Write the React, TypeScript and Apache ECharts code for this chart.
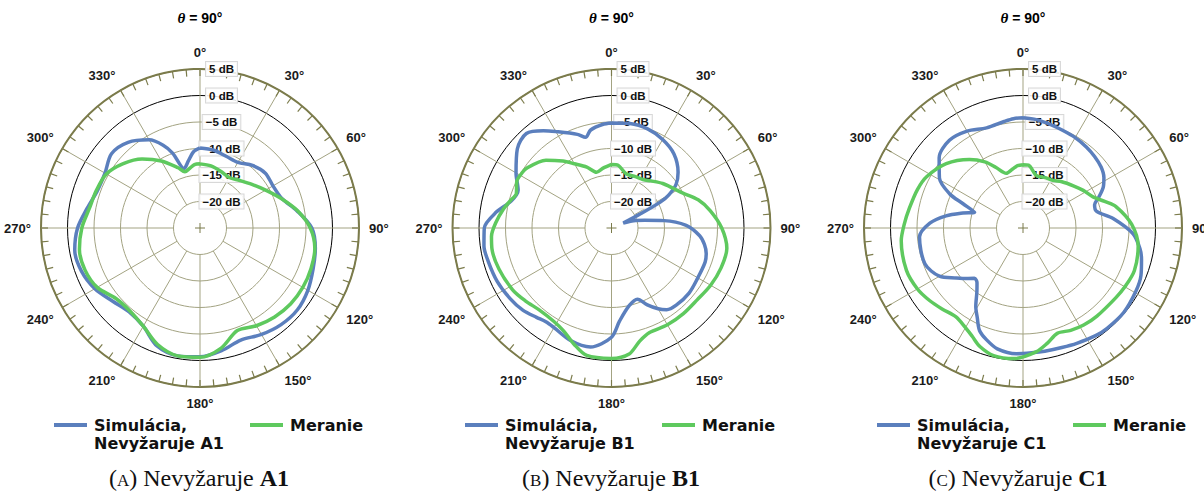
import React, { useEffect, useRef } from 'react';
import * as echarts from 'echarts';

// Colours
const BLUE = '#5b7fbd';
const GREEN = '#5ec95e';
const OLIVE = '#7b7b4b';
const GRID = '#a3a382';

// Radial scale (dB) and angular grid
const RADIUS_MIN = -25;
const RADIUS_MAX = 5;
const ringValues = [5, 0, -5, -10, -15, -20];
const ringLabels = ['5 dB', '0 dB', '\u22125 dB', '\u221210 dB', '\u221215 dB', '\u221220 dB'];
const spokeAngles = [0, 30, 60, 90, 120, 150, 180, 210, 240, 270, 300, 330];
// small ticks on the outer ring, every 5°
const ringTickAngles = Array.from({ length: 72 }, (_, k) => k * 5);

// Panel A
const simAAngles = [0, 10, 20, 30, 40, 50, 60, 70, 80, 90, 100, 110, 120, 130, 140, 150, 160, 170, 180, 190, 200, 210, 220, 230, 240, 250, 260, 270, 280, 290, 300, 310, 320, 330, 336, 340, 345, 350, 355];
const simAValues = [-9.9, -10.1, -10.6, -10.7, -9.6, -8.9, -9.1, -8.6, -6.4, -3.9, -2.9, -2.3, -1.5, -1.0, -1.2, -1.8, -2.5, -1.5, -0.7, -0.5, -1.3, -3.6, -4.3, -3.5, -2.1, -1.2, -1.0, -1.9, -3.4, -4.4, -4.3, -3.2, -3.9, -5.8, -7.9, -10.0, -13.4, -12.2, -10.6];
const measAAngles = [0, 10, 20, 30, 40, 50, 60, 70, 80, 90, 100, 110, 120, 130, 140, 150, 160, 170, 180, 190, 200, 210, 220, 230, 240, 250, 260, 270, 280, 290, 300, 310, 320, 330, 340, 345, 350, 355];
const measAValues = [-12.9, -13.1, -13.6, -14.0, -13.3, -12.2, -10.7, -8.7, -6.3, -4.2, -3.0, -2.7, -2.6, -2.7, -3.1, -3.7, -4.4, -2.0, -0.6, -0.5, -1.6, -3.6, -4.5, -4.3, -2.6, -1.9, -1.9, -2.7, -3.8, -4.2, -4.6, -6.1, -8.0, -10.4, -12.9, -14.0, -13.6, -13.0];

// Panel B
const simBAngles = [0, 10, 20, 30, 40, 50, 56, 60, 62, 64, 67, 72, 77, 82, 88, 95, 100, 105, 110, 120, 130, 140, 146, 150, 155, 160, 167, 175, 180, 190, 200, 210, 215, 220, 227, 235, 245, 255, 262, 270, 278, 285, 292, 300, 310, 318, 325, 330, 340, 344, 348, 355];
const simBValues = [-5.2, -5.0, -5.1, -5.7, -6.7, -8.6, -10.3, -12.5, -14.5, -19.0, -22.6, -20.6, -18.6, -15.0, -10.9, -8.3, -7.2, -6.5, -6.2, -6.2, -5.9, -6.0, -6.4, -7.4, -9.0, -10.7, -10.0, -7.4, -4.4, -2.2, -2.4, -3.3, -3.4, -3.0, -2.2, -1.7, -1.2, -0.9, -0.7, -1.0, -3.1, -5.4, -6.0, -4.2, -1.8, -1.0, -2.6, -4.0, -6.2, -7.2, -6.1, -5.4];
const measBAngles = [0, 6, 15, 25, 33, 40, 49, 57, 64, 72, 80, 90, 100, 110, 120, 130, 140, 150, 160, 166, 172, 180, 191, 198, 205, 212, 221, 230, 238, 250, 260, 266, 273, 280, 285, 290, 296, 300, 305, 316, 324, 330, 338, 345, 352];
const measBValues = [-13.0, -13.1, -14.4, -14.3, -14.1, -13.4, -12.2, -11.2, -10.0, -7.8, -6.1, -4.2, -2.9, -3.0, -3.4, -3.9, -3.9, -3.9, -4.0, -3.0, -1.0, -0.4, -0.5, -2.0, -3.6, -4.3, -4.4, -3.7, -3.0, -2.4, -2.1, -2.3, -3.2, -4.3, -5.2, -5.9, -5.1, -5.1, -5.4, -7.2, -9.4, -11.0, -12.6, -14.1, -13.6];

// Panel C
const simCAngles = [0, 7, 15, 22, 30, 38, 45, 52, 58, 63, 68, 72, 77, 84, 93, 100, 105, 112, 119, 130, 140, 146, 155, 162, 170, 176, 183, 192, 198, 203, 207, 211, 216, 220, 224, 230, 233, 240, 250, 265, 273, 279, 284, 288, 292, 295, 301, 310, 320, 330, 340, 350, 355];
const simCValues = [-4.2, -4.4, -4.8, -5.1, -5.3, -5.6, -5.9, -6.3, -7.0, -8.0, -9.6, -10.8, -10.8, -7.9, -4.2, -2.6, -1.85, -1.0, -0.6, -0.2, -0.3, -0.5, -1.0, -1.3, -1.4, -1.4, -1.25, -1.7, -2.8, -4.0, -6.0, -7.7, -10.2, -11.5, -11.8, -10.2, -9.3, -6.8, -5.3, -5.4, -7.4, -10.3, -13.3, -15.4, -12.8, -9.7, -6.6, -4.35, -3.4, -3.9, -4.9, -4.6, -4.3];
const measCAngles = [0, 5, 14, 24, 32, 40, 50, 58, 66, 72, 77, 88, 99, 111, 120, 127, 140, 148, 155, 162, 168, 174, 184, 193, 200, 205, 210, 217, 225, 232, 240, 250, 264, 272, 280, 290, 298, 310, 322, 330, 336, 343, 350, 355];
const measCValues = [-13.05, -13.1, -14.75, -14.6, -14.4, -13.6, -12.6, -11.6, -10.55, -8.8, -7.0, -4.5, -3.0, -2.5, -2.8, -3.1, -3.3, -3.4, -3.7, -4.1, -2.8, -1.5, -0.3, -0.3, -1.2, -2.4, -3.3, -4.0, -3.4, -2.7, -2.0, -1.6, -1.9, -2.6, -3.25, -3.8, -4.4, -6.1, -8.6, -10.6, -12.5, -14.2, -13.7, -13.2];

const MEAS_NAME = 'Meranie';

const panels = [
  { letter: 'A', cx: 200, captionX: 199, simLegendX: 54, measLegendX: 250, simAngles: simAAngles, simValues: simAValues, measAngles: measAAngles, measValues: measAValues },
  { letter: 'B', cx: 611.5, captionX: 611, simLegendX: 465, measLegendX: 662, simAngles: simBAngles, simValues: simBValues, measAngles: measBAngles, measValues: measBValues },
  { letter: 'C', cx: 1023, captionX: 1018, simLegendX: 877, measLegendX: 1073, simAngles: simCAngles, simValues: simCValues, measAngles: measCAngles, measValues: measCValues },
];

const CY = 228;
const RADIUS_PX = 159;
const LEGEND_Y = 425;

// closed polar curve as [radius, angle] pairs
function closedCurve(angles: number[], values: number[]) {
  const pts = angles.map((a, i) => [values[i], a]);
  pts.push([values[0], 360]);
  return pts;
}

function simName(letter: string) {
  return 'Simulácia, Nevyžaruje ' + letter + '1';
}

function buildOption() {
  const polar: any[] = [];
  const angleAxis: any[] = [];
  const radiusAxis: any[] = [];
  const series: any[] = [];
  const legend: any[] = [];
  const graphic: any[] = [];

  panels.forEach((p, i) => {
    polar.push({ center: [p.cx, CY], radius: RADIUS_PX });
    angleAxis.push({
      polarIndex: i,
      type: 'value',
      min: 0,
      max: 360,
      interval: 30,
      startAngle: 90,
      clockwise: true,
      axisLine: { show: true, lineStyle: { color: OLIVE, width: 2 } },
      axisTick: { show: false },
      minorTick: { show: false },
      splitLine: { show: false },
      axisLabel: {
        show: true,
        margin: 10,
        formatter: '{value}°',
        color: '#1a1a1a',
        fontFamily: 'Liberation Sans',
        fontWeight: 'bold',
        fontSize: 13,
      },
    });
    radiusAxis.push({
      polarIndex: i,
      type: 'value',
      min: RADIUS_MIN,
      max: RADIUS_MAX,
      interval: 5,
      axisLine: { show: false },
      axisTick: { show: false },
      axisLabel: { show: false },
      splitLine: {
        show: true,
        lineStyle: { color: [GRID, GRID, GRID, GRID, GRID, '#000000', OLIVE], width: 1 },
      },
    });

    // spokes every 30°, from the −20 dB ring to the outer ring
    series.push({
      type: 'custom',
      coordinateSystem: 'polar',
      polarIndex: i,
      silent: true,
      z: 1,
      data: spokeAngles.map((a) => [-20, a]),
      renderItem: (params: any, api: any) => {
        const a = api.value(1);
        const p0 = api.coord([-20, a]);
        const p1 = api.coord([RADIUS_MAX, a]);
        return {
          type: 'line',
          shape: { x1: p0[0], y1: p0[1], x2: p1[0], y2: p1[1] },
          style: { stroke: GRID, lineWidth: 1 },
        };
      },
    });

    // inward ticks on the outer ring
    series.push({
      type: 'custom',
      coordinateSystem: 'polar',
      polarIndex: i,
      silent: true,
      z: 1,
      data: ringTickAngles.map((a) => [RADIUS_MAX, a]),
      renderItem: (params: any, api: any) => {
        const a = api.value(1);
        const c = api.coord([RADIUS_MIN, 0]);
        const p1 = api.coord([RADIUS_MAX, a]);
        const dx = p1[0] - c[0];
        const dy = p1[1] - c[1];
        const len = Math.sqrt(dx * dx + dy * dy) || 1;
        const tick = 7;
        return {
          type: 'line',
          shape: { x1: p1[0], y1: p1[1], x2: p1[0] - (dx / len) * tick, y2: p1[1] - (dy / len) * tick },
          style: { stroke: OLIVE, lineWidth: 1.2 },
        };
      },
    });

    // small cross at the pole
    series.push({
      type: 'custom',
      coordinateSystem: 'polar',
      polarIndex: i,
      silent: true,
      z: 1,
      data: [[RADIUS_MIN, 0]],
      renderItem: (params: any, api: any) => {
        const c = api.coord([RADIUS_MIN, 0]);
        return {
          type: 'group',
          children: [
            { type: 'line', shape: { x1: c[0] - 5, y1: c[1], x2: c[0] + 5, y2: c[1] }, style: { stroke: OLIVE, lineWidth: 1 } },
            { type: 'line', shape: { x1: c[0], y1: c[1] - 5, x2: c[0], y2: c[1] + 5 }, style: { stroke: OLIVE, lineWidth: 1 } },
          ],
        };
      },
    });

    // ring labels
    series.push({
      type: 'custom',
      coordinateSystem: 'polar',
      polarIndex: i,
      silent: true,
      z: 2,
      data: ringValues.map((v) => [v, 0]),
      renderItem: (params: any, api: any) => {
        const pt = api.coord([api.value(0), 0]);
        return {
          type: 'text',
          x: pt[0] + 21.5,
          y: pt[1],
          style: {
            text: ringLabels[params.dataIndex],
            fill: '#111111',
            fontFamily: 'Liberation Sans',
            fontWeight: 'bold',
            fontSize: 11.5,
            align: 'center',
            verticalAlign: 'middle',
            backgroundColor: 'rgba(255,255,255,0.85)',
            borderColor: '#d8d8d8',
            borderWidth: 1,
            padding: [1, 3, 1, 3],
          },
        };
      },
    });

    series.push({
      type: 'line',
      name: simName(p.letter),
      coordinateSystem: 'polar',
      polarIndex: i,
      z: 4,
      smooth: 0.3,
      showSymbol: false,
      symbol: 'none',
      data: closedCurve(p.simAngles, p.simValues),
      lineStyle: { color: BLUE, width: 3.5 },
      itemStyle: { color: BLUE },
    });
    series.push({
      type: 'line',
      name: MEAS_NAME,
      coordinateSystem: 'polar',
      polarIndex: i,
      z: 4,
      smooth: 0.3,
      showSymbol: false,
      symbol: 'none',
      data: closedCurve(p.measAngles, p.measValues),
      lineStyle: { color: GREEN, width: 3.5 },
      itemStyle: { color: GREEN },
    });

    const legendText = {
      fontFamily: 'DejaVu Sans',
      fontWeight: 'bold',
      fontSize: 16,
      color: '#111111',
      lineHeight: 18,
      padding: [0, 0, 0, 2],
    };
    // three-line block (blank first line) keeps the first name line level with the icon
    legend.push({
      left: p.simLegendX,
      top: LEGEND_Y - 27,
      padding: 0,
      icon: 'rect',
      itemWidth: 33,
      itemHeight: 4,
      selectedMode: false,
      data: [simName(p.letter)],
      formatter: (name: string) => ' \n' + name.replace(', ', ',\n'),
      textStyle: legendText,
    });
    legend.push({
      left: p.measLegendX,
      top: LEGEND_Y - 9,
      padding: 0,
      icon: 'rect',
      itemWidth: 33,
      itemHeight: 4,
      selectedMode: false,
      data: [MEAS_NAME],
      textStyle: legendText,
    });

    graphic.push({
      type: 'text',
      x: p.cx,
      y: 18,
      style: {
        text: '{i|θ} = 90°',
        fill: '#000',
        fontFamily: 'Liberation Sans',
        fontWeight: 'bold',
        fontSize: 14,
        align: 'center',
        verticalAlign: 'middle',
        rich: {
          i: { fontFamily: 'Liberation Serif', fontStyle: 'italic', fontWeight: 'bold', fontSize: 15, fill: '#000' },
        },
      },
    });
    graphic.push({
      type: 'text',
      x: p.captionX,
      y: 478,
      style: {
        text: '({s|' + p.letter + '}) Nevyžaruje {b|' + p.letter + '1}',
        fill: '#111',
        fontFamily: 'Liberation Serif',
        fontSize: 24,
        align: 'center',
        verticalAlign: 'middle',
        rich: {
          s: { fontFamily: 'Liberation Serif', fontSize: 17, fill: '#111', verticalAlign: 'bottom', padding: [0, 0, 1, 0] },
          b: { fontFamily: 'Liberation Serif', fontSize: 24, fontWeight: 'bold', fill: '#111' },
        },
      },
    });
  });

  return {
    animation: false,
    backgroundColor: '#ffffff',
    polar,
    angleAxis,
    radiusAxis,
    legend,
    graphic,
    series,
  };
}

export default function App() {
  const ref = useRef<HTMLDivElement>(null);
  useEffect(() => {
    if (!ref.current) return;
    const chart = echarts.init(ref.current, undefined, { renderer: 'svg' });
    chart.setOption(buildOption() as any);
    return () => chart.dispose();
  }, []);
  return (
    <div
      ref={ref}
      style={{ position: 'absolute', left: 0, top: 0, width: 1204, height: 492 }}
    />
  );
}
